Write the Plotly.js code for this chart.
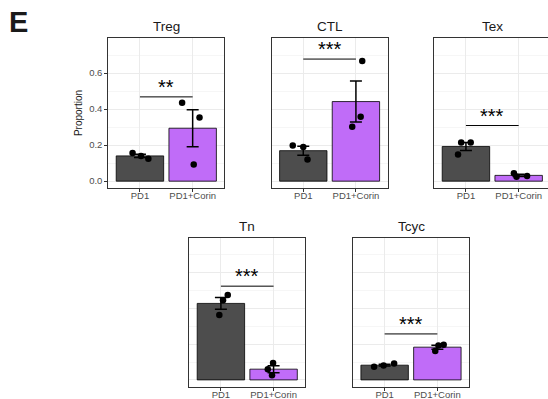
<!DOCTYPE html>
<html>
<head>
<meta charset="utf-8">
<script src="https://cdn.plot.ly/plotly-3.0.1.min.js"></script>
<style>
  html, body { margin: 0; padding: 0; overflow: hidden; background: #ffffff; }
  #chart { width: 556px; height: 399px; }
</style>
</head>
<body>
<div id="chart"></div>
<script>
// Cell-type panels and treatment groups
const panels = ["Treg", "CTL", "Tex", "Tn", "Tcyc"];
const groups = ["PD1", "PD1+Corin"];

// Per-sample proportions (three samples per group)
const tregPD1 = [0.157, 0.140, 0.124];
const tregCorin = [0.435, 0.354, 0.093];
const ctlPD1 = [0.198, 0.190, 0.120];
const ctlCorin = [0.667, 0.357, 0.302];
const texPD1 = [0.215, 0.215, 0.148];
const texCorin = [0.044, 0.024, 0.028];
const tnPD1 = [0.474, 0.446, 0.363];
const tnCorin = [0.094, 0.060, 0.026];
const tcycPD1 = [0.074, 0.081, 0.092];
const tcycCorin = [0.161, 0.192, 0.196];

// Horizontal jitter of the sample dots (in category units)
const tregJitPD1 = [-0.14, 0.02, 0.16];
const tregJitCorin = [-0.20, 0.13, 0.02];
const ctlJitPD1 = [-0.20, 0.00, 0.08];
const ctlJitCorin = [0.12, 0.09, -0.07];
const texJitPD1 = [-0.09, 0.09, -0.15];
const texJitCorin = [-0.09, -0.04, 0.16];
const tnJitPD1 = [0.13, 0.04, -0.03];
const tnJitCorin = [-0.01, -0.11, -0.03];
const tcycJitPD1 = [-0.20, -0.02, 0.18];
const tcycJitCorin = [-0.04, 0.02, 0.12];

// Significance brackets: height and label
const bracketY = [0.468, 0.678, 0.309, 0.524, 0.257];
const bracketLabel = ["**", "***", "***", "***", "***"];

const samples = [
  [tregPD1, tregCorin], [ctlPD1, ctlCorin], [texPD1, texCorin],
  [tnPD1, tnCorin], [tcycPD1, tcycCorin]
];
const jitters = [
  [tregJitPD1, tregJitCorin], [ctlJitPD1, ctlJitCorin], [texJitPD1, texJitCorin],
  [tnJitPD1, tnJitCorin], [tcycJitPD1, tcycJitCorin]
];

const mean = a => a.reduce((s, v) => s + v, 0) / a.length;
const se = a => {
  const m = mean(a);
  const sd = Math.sqrt(a.reduce((s, v) => s + (v - m) * (v - m), 0) / (a.length - 1));
  return sd / Math.sqrt(a.length);
};

// Panel boxes in pixels: [left, right, top, bottom]
const W = 556, H = 399;
const boxes = [
  [108.3, 224.3, 38, 188],
  [271.7, 387.5, 38, 188],
  [434.3, 550.3, 38, 188],
  [189.3, 305.2, 237.7, 386.7],
  [353.0, 469.0, 237.7, 386.7]
];

const barColors = ["#4d4d4d", "#c06cf8"];
const data = [];
const shapes = [];
const annotations = [];
const layout = {
  width: W, height: H,
  margin: {l: 0, r: 0, t: 0, b: 0},
  paper_bgcolor: "#ffffff", plot_bgcolor: "#ffffff",
  showlegend: false,
  font: {family: "Liberation Sans, Arial, sans-serif", color: "#1a1a1a"}
};

panels.forEach((name, i) => {
  const sfx = i === 0 ? "" : String(i + 1);
  const xa = "x" + sfx, ya = "y" + sfx;
  const b = boxes[i];

  layout["xaxis" + sfx] = {
    domain: [b[0] / W, b[1] / W],
    anchor: ya,
    range: [-0.6, 1.6],
    tickvals: [0, 1],
    ticktext: groups,
    ticks: "outside", ticklen: 3, tickwidth: 1, tickcolor: "#333333",
    ticklabelstandoff: -4,
    showline: true, mirror: true, linecolor: "#333333", linewidth: 1,
    showgrid: true, gridcolor: "#ebebeb", gridwidth: 1,
    zeroline: false, fixedrange: true,
    tickfont: {size: 9.5, color: "#4d4d4d"}
  };
  layout["yaxis" + sfx] = {
    domain: [1 - b[3] / H, 1 - b[2] / H],
    anchor: xa,
    range: [-0.038, 0.795],
    tickvals: [0, 0.2, 0.4, 0.6],
    tickformat: ".1f",
    showticklabels: i === 0,
    ticks: i === 0 ? "outside" : "",
    ticklen: 3, tickwidth: 1, tickcolor: "#333333",
    showline: true, mirror: true, linecolor: "#333333", linewidth: 1,
    showgrid: true, gridcolor: "#ebebeb", gridwidth: 1,
    minor: {dtick: 0.1, tick0: 0, showgrid: true, gridcolor: "#f0f0f0", gridwidth: 0.6},
    zeroline: false, fixedrange: true,
    tickfont: {size: 9.5, color: "#4d4d4d"}
  };
  if (i === 0) {
    layout["yaxis" + sfx].title = {text: "Proportion", font: {size: 10, color: "#1a1a1a"}, standoff: 4};
  }

  const grp = samples[i];
  // Bars: group means with standard-error whiskers
  data.push({
    type: "bar", xaxis: xa, yaxis: ya,
    x: [0, 1], y: grp.map(mean), width: 0.9,
    marker: {color: barColors, line: {color: "#000000", width: 0.8}},
    error_y: {type: "data", array: grp.map(se), visible: true, color: "#000000", thickness: 1.5, width: 6},
    hoverinfo: "skip"
  });
  // Individual samples
  grp.forEach((vals, g) => {
    data.push({
      type: "scatter", mode: "markers", xaxis: xa, yaxis: ya,
      x: vals.map((v, k) => g + jitters[i][g][k]), y: vals,
      marker: {color: "#000000", size: 6.5},
      hoverinfo: "skip", cliponaxis: false
    });
  });

  // Significance bracket and stars
  shapes.push({
    type: "line", xref: xa, yref: ya,
    x0: 0, x1: 1, y0: bracketY[i], y1: bracketY[i],
    line: {color: "#000000", width: 1}
  });
  annotations.push({
    xref: xa, yref: ya, x: 0.5, y: bracketY[i],
    text: bracketLabel[i], showarrow: false,
    yanchor: "bottom", yshift: -3,
    font: {size: 20, color: "#000000"}
  });

  // Panel strip title
  annotations.push({
    xref: "paper", yref: "paper",
    x: (b[0] + b[1]) / 2 / W, y: 1 - (b[2] - 11.5) / H,
    text: name, showarrow: false, xanchor: "center", yanchor: "middle",
    font: {size: 13.5, color: "#1a1a1a"}
  });
});

// Figure panel letter
annotations.push({
  xref: "paper", yref: "paper", x: 7 / W, y: 1 - 22.5 / H,
  xanchor: "left", yanchor: "middle", showarrow: false,
  text: "<b>E</b>", font: {size: 29, color: "#1a1a1a"}
});

layout.shapes = shapes;
layout.annotations = annotations;

Plotly.newPlot("chart", data, layout, {displayModeBar: false, staticPlot: true});
</script>
</body>
</html>
